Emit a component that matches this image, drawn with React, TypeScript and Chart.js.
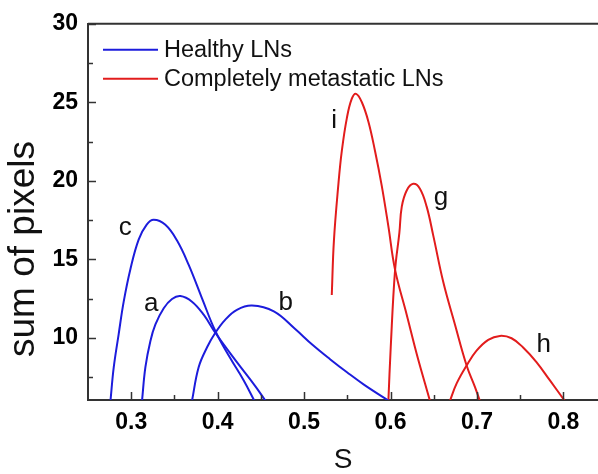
import React, { useEffect, useRef } from 'react';
import { Chart, registerables } from 'chart.js';

Chart.register(...registerables);

// ---------- data ----------
const xTicks = [0.3, 0.4, 0.5, 0.6, 0.7, 0.8];
const xMinorTicks = [0.35, 0.45, 0.55, 0.65, 0.75];
const yTicks = [10, 15, 20, 25, 30];
const yMinorTicks = [7.5, 12.5, 17.5, 22.5, 27.5];

// Healthy LNs
const sA = [0.3125, 0.3164, 0.3222, 0.328, 0.3376, 0.3472, 0.3569, 0.3703, 0.3838, 0.3973, 0.4209, 0.4441, 0.4553];
const yA = [6.0, 8.14, 9.81, 10.86, 11.89, 12.48, 12.67, 12.31, 11.48, 10.33, 8.56, 6.89, 6.0];
const sB = [0.3703, 0.378, 0.3876, 0.3973, 0.4089, 0.4223, 0.4397, 0.465, 0.49, 0.51, 0.53, 0.55, 0.57, 0.598];
const yB = [6.0, 8.14, 9.39, 10.33, 11.17, 11.79, 12.06, 11.69, 10.55, 9.55, 8.65, 7.8, 7.0, 6.0];
const sC = [0.276, 0.2798, 0.2855, 0.2913, 0.2991, 0.3087, 0.3179, 0.326, 0.3395, 0.353, 0.3665, 0.3819, 0.3973, 0.414, 0.43, 0.4425];
const yC = [6.0, 8.14, 10.25, 12.31, 14.39, 16.27, 17.21, 17.52, 17.2, 16.2, 14.65, 12.52, 10.44, 8.77, 7.31, 6.0];

// Completely metastatic LNs
const sG = [0.5975, 0.6002, 0.6052, 0.6102, 0.613, 0.6187, 0.6263, 0.634, 0.6418, 0.6495, 0.661, 0.6745, 0.688, 0.6976, 0.7033];
const yG = [6.0, 9.39, 14.29, 16.69, 18.36, 19.39, 19.81, 19.5, 18.36, 16.5, 13.56, 10.86, 8.25, 6.89, 6.0];
const sH = [0.6687, 0.6765, 0.688, 0.6995, 0.713, 0.7265, 0.74, 0.7534, 0.7688, 0.7842, 0.8015];
const yH = [6.0, 7.11, 8.25, 9.19, 9.88, 10.13, 9.98, 9.39, 8.46, 7.31, 6.0];
const sI = [0.532, 0.5345, 0.5397, 0.5436, 0.5494, 0.5552, 0.5602, 0.5667, 0.5744, 0.5821, 0.5898, 0.5975, 0.6052, 0.6187, 0.6303, 0.6398, 0.6456];
const yI = [12.73, 16.2, 19.81, 21.89, 23.98, 25.23, 25.54, 25.02, 23.77, 21.89, 19.7, 17.1, 14.35, 11.48, 8.98, 7.11, 6.0];

const curveNames = ['a', 'b', 'c', 'g', 'h', 'i'];
const curveLabelS = [0.3231, 0.4788, 0.2931, 0.6584, 0.7772, 0.5348];
const curveLabelY = [11.69, 11.79, 16.58, 18.46, 9.08, 23.39];

const legendLabels = ['Healthy LNs', 'Completely metastatic LNs'];
const xTitle = 'S';
const yTitle = 'sum of pixels';

const BLUE = '#1c1cdc';
const RED = '#e21c1c';
const AXIS = '#333333';
const FONT = "'Liberation Sans', Arial, Helvetica, sans-serif";

const toPts = (s: number[], y: number[]) => s.map((v, i) => ({ x: v, y: y[i] }));

const decorPlugin = {
  id: 'decor',
  afterDraw(chart: any) {
    const { ctx, chartArea: a, scales } = chart;
    const x = scales.x;
    const y = scales.y;
    ctx.save();
    ctx.strokeStyle = AXIS;
    ctx.lineWidth = 1.5;
    const tickY = (vals: number[], len: number) => {
      vals.forEach((v) => {
        const py = Math.round(y.getPixelForValue(v)) + 0.5;
        ctx.beginPath();
        ctx.moveTo(a.left, py);
        ctx.lineTo(a.left + len, py);
        ctx.stroke();
      });
    };
    const tickX = (vals: number[], len: number) => {
      vals.forEach((v) => {
        const px = Math.round(x.getPixelForValue(v)) + 0.5;
        ctx.beginPath();
        ctx.moveTo(px, a.bottom);
        ctx.lineTo(px, a.bottom - len);
        ctx.stroke();
      });
    };
    tickY(yTicks, 8);
    tickY(yMinorTicks, 5);
    tickX(xTicks, 8);
    tickX(xMinorTicks, 5);
    ctx.lineWidth = 2;
    ctx.beginPath();
    ctx.moveTo(a.left, a.top);
    ctx.lineTo(a.right, a.top);
    ctx.stroke();

    const colors = [BLUE, RED];
    ctx.font = `23.5px ${FONT}`;
    ctx.textBaseline = 'middle';
    ctx.textAlign = 'left';
    legendLabels.forEach((t, i) => {
      const ly = a.top + 26 + i * 29;
      ctx.strokeStyle = colors[i];
      ctx.lineWidth = 2;
      ctx.beginPath();
      ctx.moveTo(a.left + 15, ly);
      ctx.lineTo(a.left + 70, ly);
      ctx.stroke();
      ctx.fillStyle = '#111';
      ctx.fillText(t, a.left + 76, ly + 1);
    });

    ctx.font = `26px ${FONT}`;
    ctx.textBaseline = 'alphabetic';
    ctx.textAlign = 'center';
    ctx.fillStyle = '#111';
    curveNames.forEach((n, i) => {
      ctx.fillText(n, x.getPixelForValue(curveLabelS[i]), y.getPixelForValue(curveLabelY[i]));
    });

    ctx.save();
    ctx.translate(34, 249);
    ctx.rotate(-Math.PI / 2);
    ctx.font = `37px ${FONT}`;
    ctx.textAlign = 'center';
    ctx.textBaseline = 'alphabetic';
    ctx.fillStyle = '#111';
    ctx.fillText(yTitle, 0, 0);
    ctx.restore();

    ctx.restore();
  },
};

export default function App() {
  const ref = useRef<HTMLCanvasElement | null>(null);
  useEffect(() => {
    if (!ref.current) return;
    const mk = (label: string, s: number[], yv: number[], color: string) => ({
      label,
      data: toPts(s, yv),
      borderColor: color,
      backgroundColor: color,
      borderWidth: 2,
      pointRadius: 0,
      showLine: true,
      tension: 0.4,
      fill: false,
    });
    const chart = new Chart(ref.current, {
      type: 'scatter',
      data: {
        datasets: [
          mk('a', sA, yA, BLUE),
          mk('b', sB, yB, BLUE),
          mk('c', sC, yC, BLUE),
          mk('g', sG, yG, RED),
          mk('h', sH, yH, RED),
          mk('i', sI, yI, RED),
        ],
      },
      options: {
        animation: false,
        responsive: false,
        devicePixelRatio: 1,
        layout: { padding: { top: 17, right: 0, left: 0, bottom: 0 } },
        plugins: { legend: { display: false }, tooltip: { enabled: false } },
        scales: {
          x: {
            type: 'linear',
            position: 'bottom',
            min: 0.25,
            max: 0.84,
            grid: { display: false, drawTicks: false },
            border: { display: true, color: AXIS, width: 2 },
            ticks: {
              padding: 9,
              color: '#000',
              font: { family: FONT, size: 23, weight: 'bold' },
              callback: (v: any) => Number(v).toFixed(1),
            },
            afterBuildTicks: (scale: any) => {
              scale.ticks = xTicks.map((v) => ({ value: v }));
            },
            afterFit: (scale: any) => {
              scale.height = 74;
            },
            title: {
              display: true,
              text: xTitle,
              color: '#111',
              font: { family: FONT, size: 28, lineHeight: 1 },
              padding: { top: 0, bottom: 0 },
            },
          },
          y: {
            type: 'linear',
            min: 6.05,
            max: 30,
            grid: { display: false, drawTicks: false },
            border: { display: true, color: AXIS, width: 2 },
            ticks: {
              padding: 10,
              color: '#000',
              font: { family: FONT, size: 23, weight: 'bold' },
            },
            afterBuildTicks: (scale: any) => {
              scale.ticks = yTicks.map((v) => ({ value: v }));
            },
            afterFit: (scale: any) => {
              scale.width = 88;
            },
          },
        },
      },
      plugins: [decorPlugin],
    });
    return () => chart.destroy();
  }, []);
  return (
    <div style={{ position: 'absolute', left: 0, top: 0, width: 598, height: 474, background: '#fff' }}>
      <canvas ref={ref} width={598} height={474} style={{ display: 'block' }} />
    </div>
  );
}
